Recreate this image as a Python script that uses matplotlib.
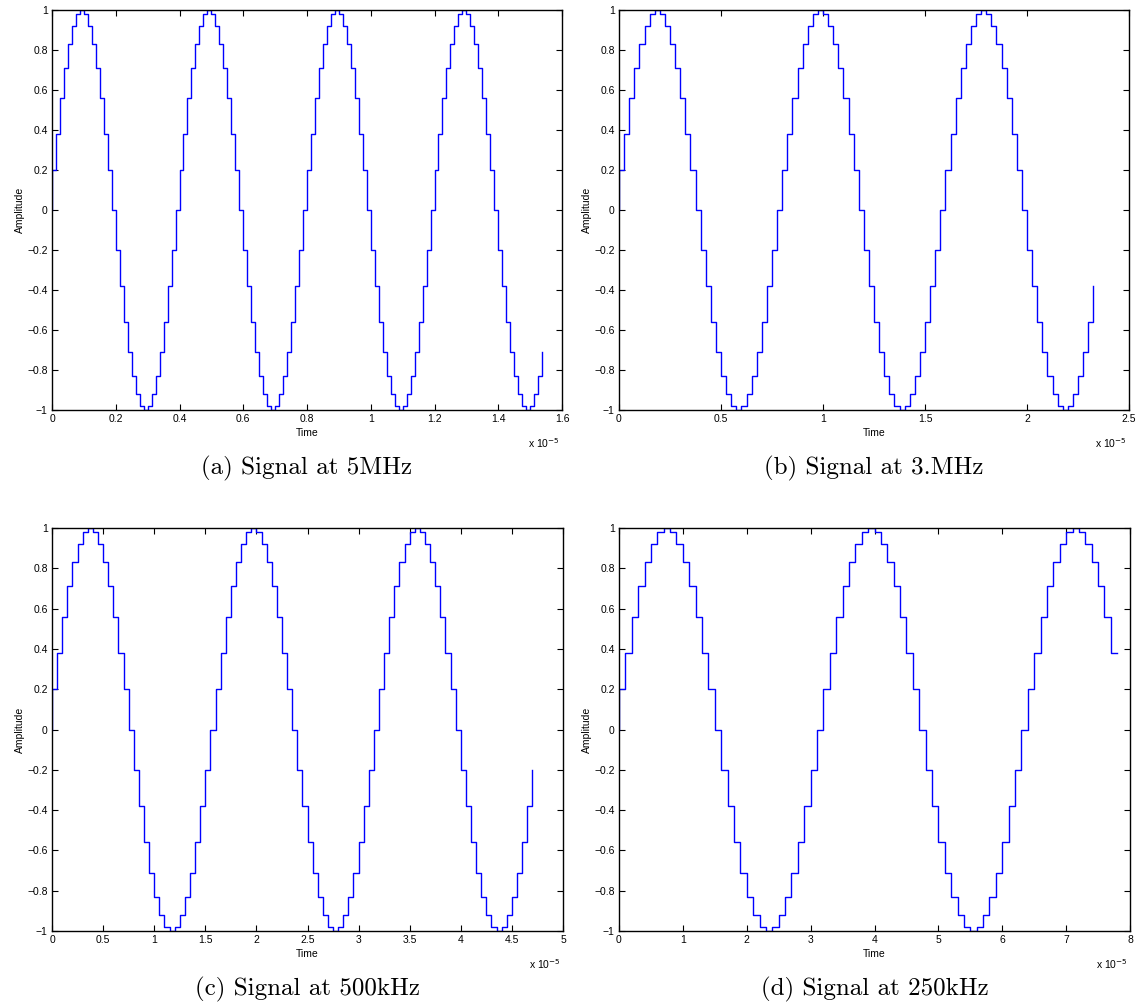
import numpy as np
import matplotlib
matplotlib.use('Agg')
import matplotlib.pyplot as plt

plt.rcParams['font.family'] = ['Liberation Sans', 'DejaVu Sans']

# one period of the sine lookup table (32 levels)
period_levels = [0, 0.2, 0.38, 0.56, 0.71, 0.83, 0.92, 0.98,
                 1.0, 0.98, 0.92, 0.83, 0.71, 0.56, 0.38, 0.2,
                 0, -0.2, -0.38, -0.56, -0.71, -0.83, -0.92, -0.98,
                 -1.0, -0.98, -0.92, -0.83, -0.71, -0.56, -0.38, -0.2]

# per panel: step width (x 1e-5 s) and number of held samples
captions = ['(a) Signal at 5MHz', '(b) Signal at 3.MHz',
            '(c) Signal at 500kHz', '(d) Signal at 250kHz']
step_width = [0.0125, 0.025, 0.05, 0.1]
n_samples = [124, 94, 95, 78]
hold_last = [False, False, False, True]
x_max = [1.6, 2.5, 5, 8]
x_ticks = [[0, 0.2, 0.4, 0.6, 0.8, 1, 1.2, 1.4, 1.6],
           [0, 0.5, 1, 1.5, 2, 2.5],
           [0, 0.5, 1, 1.5, 2, 2.5, 3, 3.5, 4, 4.5, 5],
           [0, 1, 2, 3, 4, 5, 6, 7, 8]]
x_labels = [['0', '0.2', '0.4', '0.6', '0.8', '1', '1.2', '1.4', '1.6'],
            ['0', '0.5', '1', '1.5', '2', '2.5'],
            ['0', '0.5', '1', '1.5', '2', '2.5', '3', '3.5', '4', '4.5', '5'],
            ['0', '1', '2', '3', '4', '5', '6', '7', '8']]
y_ticks = [-1, -0.8, -0.6, -0.4, -0.2, 0, 0.2, 0.4, 0.6, 0.8, 1]
y_labels = ['\u22121', '\u22120.8', '\u22120.6', '\u22120.4', '\u22120.2', '0',
            '0.2', '0.4', '0.6', '0.8', '1']

W, H = 1137, 1008
fig = plt.figure(figsize=(W / 100, H / 100), dpi=100)

# axes boxes in pixels: left, top, right, bottom
boxes = [(52, 10, 562, 410), (619, 10, 1129, 410),
         (52, 528, 563, 931), (619, 528, 1130, 931)]

for i in range(4):
    l, t, r, b = boxes[i]
    ax = fig.add_axes([l / W, 1 - b / H, (r - l) / W, (b - t) / H])

    dt = step_width[i]
    n = n_samples[i]
    held = np.tile(period_levels, 5)[1:n + 1]
    tt = np.concatenate([[0.0], np.arange(n) * dt])
    yy = np.concatenate([[0.0], held])
    if hold_last[i]:
        tt = np.append(tt, n * dt)
        yy = np.append(yy, held[-1])
    ax.step(tt, yy, where='post', color='#0000ff', lw=1.0)

    ax.set_xlim(0, x_max[i])
    ax.set_ylim(-1, 1)
    ax.set_xticks(x_ticks[i])
    ax.set_xticklabels(x_labels[i])
    ax.set_yticks(y_ticks)
    ax.set_yticklabels(y_labels)
    ax.tick_params(direction='in', top=True, right=True, labelsize=7.5,
                   length=4, width=0.8, pad=3)
    for s in ax.spines.values():
        s.set_linewidth(1.0)
    ax.set_xlabel('Time', fontsize=7.5, labelpad=3)
    ax.set_ylabel('Amplitude', fontsize=7.5, labelpad=2)
    ax.text(0.995, -0.065, r'x 10$^{-5}$', transform=ax.transAxes,
            ha='right', va='top', fontsize=7.5)

    cx = (l + r) / 2 / W
    cy = 1 - (b + 58) / H
    fig.text(cx, cy, captions[i], ha='center', va='center',
             fontsize=18, family='cmr10')

fig.savefig('out.png', dpi=100)
